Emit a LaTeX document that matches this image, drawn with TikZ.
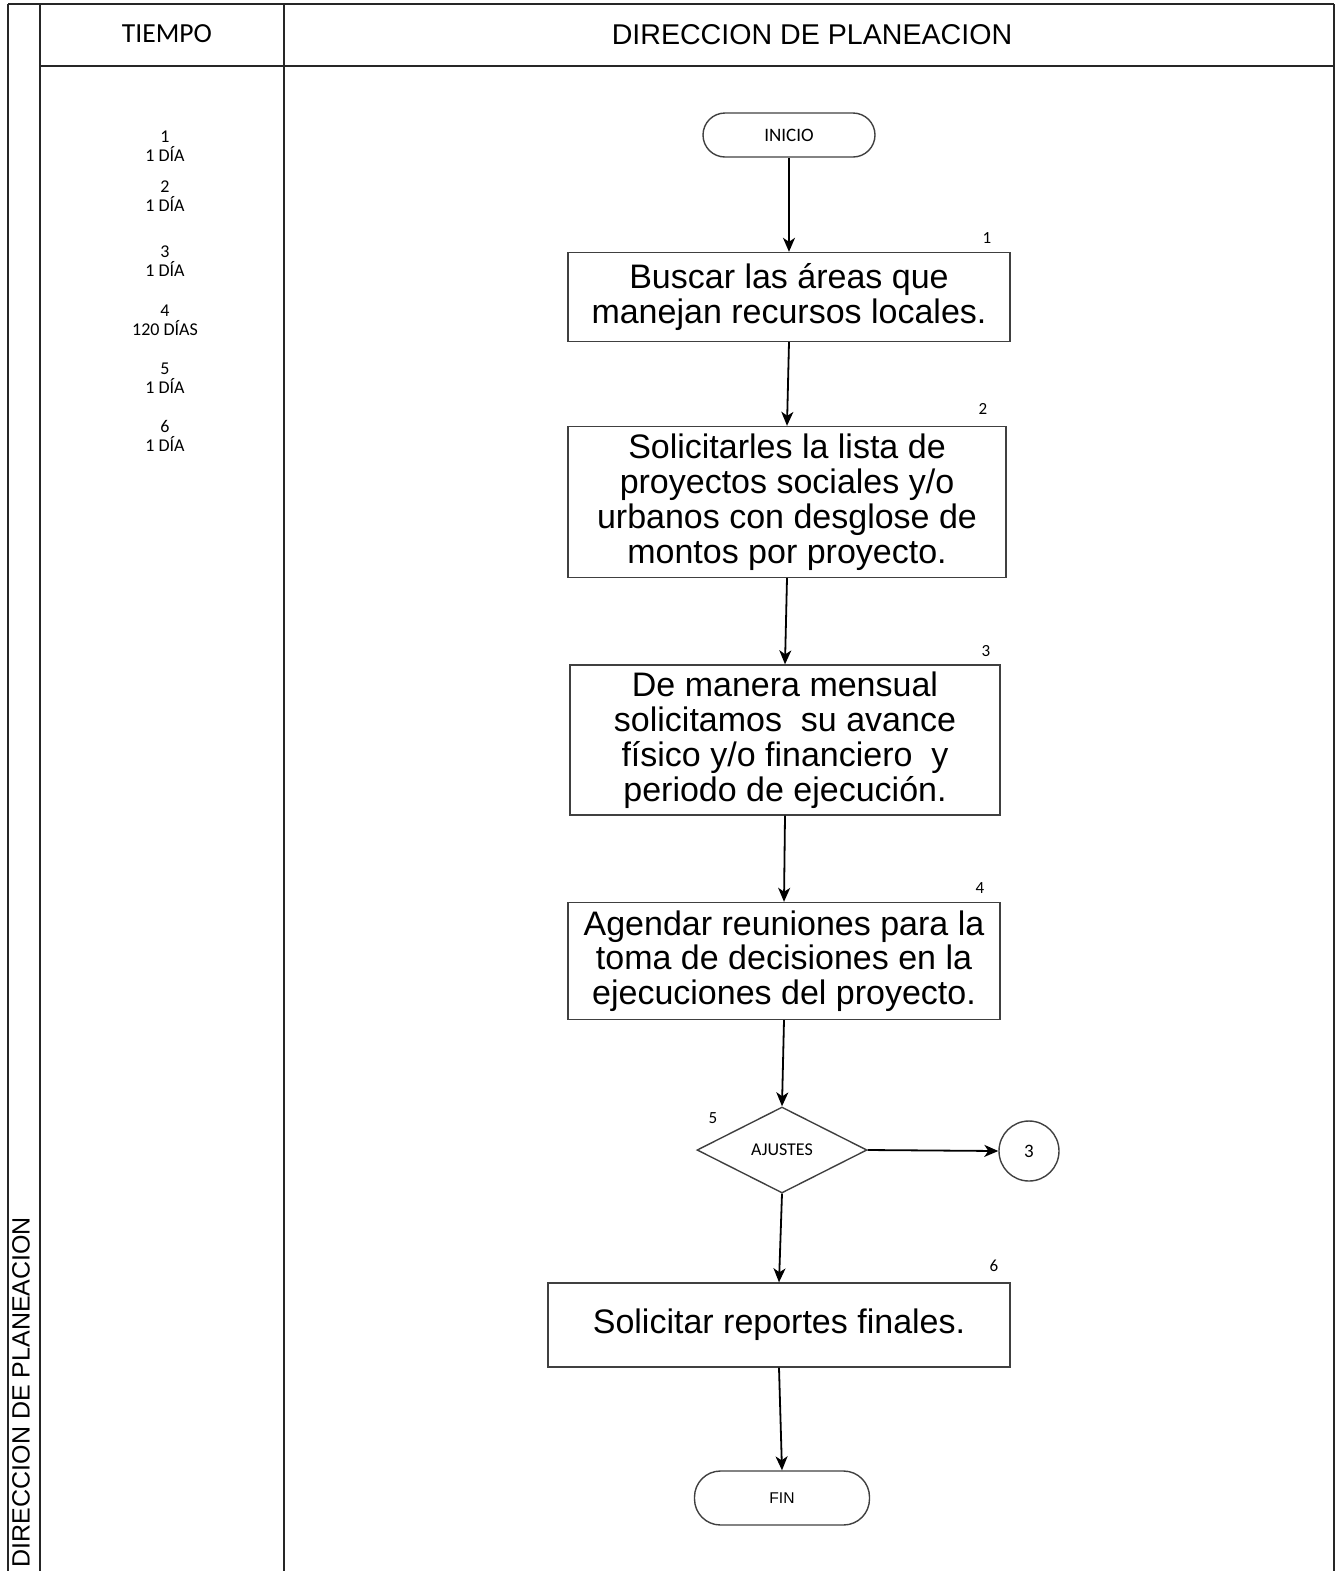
\documentclass[tikz,border=0pt]{standalone}
\usepackage{fontspec}
\setmainfont{Liberation Sans}
\newfontfamily\calib{Carlito}
\usetikzlibrary{shapes.geometric,arrows.meta}
\begin{document}
\begin{tikzpicture}[x=0.5pt,y=-0.5pt,
  frame/.style={line width=1.3pt,black!85},
  proc/.style={draw=black!75,line width=0.7pt,align=center,inner sep=0pt,
    font=\fontsize{17}{17.4}\selectfont},
  term/.style={draw=black!75,line width=0.7pt,rounded corners=11pt,inner sep=0pt,
    font=\calib\fontsize{9.5}{10}\selectfont},
  stepno/.style={font=\calib\fontsize{8.5}{9}\selectfont},
  tiempo/.style={align=center,font=\calib\fontsize{9}{9.6}\selectfont},
  flow/.style={line width=0.9pt,-{Stealth[length=7pt,width=6pt,inset=2pt]}}
]
\useasboundingbox (0,0) rectangle (1339,1571);

% table frame
\draw[frame] (8,4) -- (1334,4);
\draw[frame] (40,66) -- (1334,66);
\draw[frame] (8,4) -- (8,1571);
\draw[frame] (40,4) -- (40,1571);
\draw[frame] (284,4) -- (284,1571);
\draw[frame] (1334,4) -- (1334,1571);

% headers
\node (hT) at (167,34) {\calib\fontsize{13.8}{14}\selectfont TIEMPO};
\node (hD) at (812,35) {\fontsize{14.3}{15}\selectfont DIRECCION DE PLANEACION};
\node[rotate=90] (hV) at (21,1392) {\fontsize{12.5}{13}\selectfont DIRECCION DE PLANEACION};

% time column
\node[tiempo] (t1) at (165,146) {1\\1 DÍA};
\node[tiempo] (t2) at (165,196) {2\\1 DÍA};
\node[tiempo] (t3) at (165,261) {3\\1 DÍA};
\node[tiempo] (t4) at (165,320) {4\\120 DÍAS};
\node[tiempo] (t5) at (165,378) {5\\1 DÍA};
\node[tiempo] (t6) at (165,436) {6\\1 DÍA};

% flow chart
\node[term,minimum width=86pt,minimum height=22pt] (ini) at (789,135) {INICIO};
\node[proc,minimum width=221pt,minimum height=44.5pt] (b1) at (789,297)
  {Buscar las áreas que\\manejan recursos locales.};
\node[proc,minimum width=219pt,minimum height=75.5pt] (b2) at (787,502)
  {Solicitarles la lista de\\proyectos sociales y/o\\urbanos con desglose de\\montos por proyecto.};
\node[proc,minimum width=215pt,minimum height=75pt] (b3) at (785,740)
  {De manera mensual\\solicitamos\ \ su avance\\físico y/o financiero\ \ y\\periodo de ejecución.};
\node[proc,minimum width=216pt,minimum height=58.5pt] (b4) at (784,961)
  {Agendar reuniones para la\\toma de decisiones en la\\ejecuciones del proyecto.};
\node[diamond,draw=black!75,line width=0.7pt,inner sep=0pt,minimum width=85pt,minimum height=43pt,
  font=\calib\fontsize{9}{10}\selectfont] (d5) at (782,1150) {AJUSTES};
\node[circle,draw=black!75,line width=0.7pt,minimum size=30pt,inner sep=0pt,
  font=\calib\fontsize{9.5}{10}\selectfont] (c3) at (1029,1151) {3};
\node[proc,minimum width=231pt,minimum height=42pt] (b6) at (779,1325)
  {Solicitar reportes finales.};
\node[term,rounded corners=13pt,minimum width=87.5pt,minimum height=27pt,
  font=\fontsize{7.8}{8}\selectfont] (fin) at (782,1498) {FIN};

% step numbers
\node[stepno] (n1) at (987,238) {1};
\node[stepno] (n2) at (983,409) {2};
\node[stepno] (n3) at (986,651) {3};
\node[stepno] (n4) at (980,888) {4};
\node[stepno] (n5) at (713,1118) {5};
\node[stepno] (n6) at (994,1266) {6};

% connectors
\draw[flow] (ini.south) -- (b1.north);
\draw[flow] (b1.south) -- (b2.north);
\draw[flow] (b2.south) -- (b3.north);
\draw[flow] (b3.south) -- (b4.north);
\draw[flow] (b4.south) -- (d5.north);
\draw[flow] (d5.south) -- (b6.north);
\draw[flow] (b6.south) -- (fin.north);
\draw[flow] (d5.east) -- (c3.west);
\end{tikzpicture}
\end{document}
